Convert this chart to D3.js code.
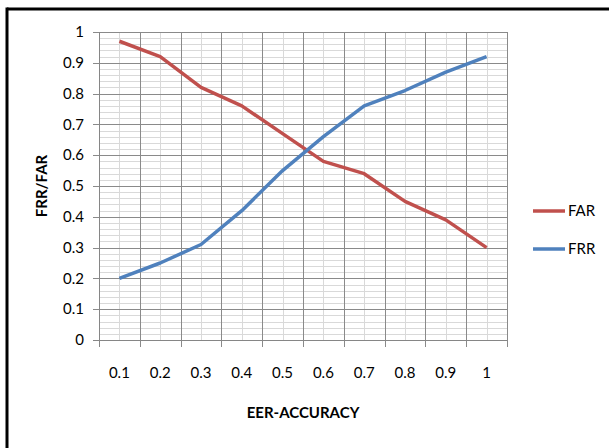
<!DOCTYPE html>
<html><head><meta charset="utf-8">
<script src="https://cdn.jsdelivr.net/npm/d3@7"></script>
<style>body{margin:0;background:#fff}svg{display:block}text{font-family:Lato,"Open Sans",sans-serif}</style>
</head><body>
<svg id="c" width="609" height="448"></svg>
<script>
const categories = ["0.1","0.2","0.3","0.4","0.5","0.6","0.7","0.8","0.9","1"];
const FAR = [0.97,0.92,0.82,0.76,0.67,0.58,0.54,0.45,0.39,0.30];
const FRR = [0.20,0.25,0.31,0.42,0.55,0.66,0.76,0.81,0.87,0.92];
const yTicks = [0,0.1,0.2,0.3,0.4,0.5,0.6,0.7,0.8,0.9,1];
const series = [{name:"FAR",values:FAR,color:"#C0504D"},{name:"FRR",values:FRR,color:"#4F81BD"}];

const svg = d3.select("#c");
const L=99, R=507, T=32, B=340;
const x = d3.scaleBand().domain(categories).range([L,R]);
const y = d3.scaleLinear().domain([0,1]).range([B,T]);

// frame
svg.append("line").attr("x1",7).attr("x2",609).attr("y1",9).attr("y2",9).attr("stroke","#000").attr("stroke-width",3);
svg.append("line").attr("x1",7).attr("x2",7).attr("y1",7.5).attr("y2",448).attr("stroke","#000").attr("stroke-width",3);

const g = svg.append("g");
const minor = d3.range(0,1.0001,0.02).filter(v=>Math.abs(Math.round(v*10)-v*10)>1e-6);
g.selectAll(".hmin").data(minor).enter().append("line")
 .attr("x1",L).attr("x2",R).attr("y1",d=>Math.round(y(d))+0.5).attr("y2",d=>Math.round(y(d))+0.5)
 .attr("stroke","#d9d9d9").attr("stroke-width",1);
g.selectAll(".vmin").data(categories).enter().append("line")
 .attr("x1",d=>Math.round(x(d)+x.bandwidth()/2)+0.5).attr("x2",d=>Math.round(x(d)+x.bandwidth()/2)+0.5)
 .attr("y1",T).attr("y2",B).attr("stroke","#d9d9d9").attr("stroke-width",1);
g.selectAll(".hmaj").data(yTicks).enter().append("line")
 .attr("x1",L-6).attr("x2",R).attr("y1",d=>Math.round(y(d))+0.5).attr("y2",d=>Math.round(y(d))+0.5)
 .attr("stroke","#8a8a8a").attr("stroke-width",1);
const bounds = categories.map(c=>x(c)).concat([R]);
g.selectAll(".vmaj").data(bounds).enter().append("line")
 .attr("x1",d=>Math.round(d)+0.5).attr("x2",d=>Math.round(d)+0.5)
 .attr("y1",T).attr("y2",B+7).attr("stroke","#8a8a8a").attr("stroke-width",1);
g.append("line").attr("x1",L+0.5).attr("x2",L+0.5).attr("y1",T).attr("y2",B+7).attr("stroke","#868686");
g.append("line").attr("x1",L-6).attr("x2",R).attr("y1",B+0.5).attr("y2",B+0.5).attr("stroke","#868686");

g.selectAll(".yl").data(yTicks).enter().append("text")
 .attr("x",84).attr("y",d=>y(d)).attr("dy","0.35em").attr("text-anchor","end")
 .attr("font-size",15).attr("fill","#000").text(d=>d3.format("")(+d.toFixed(1)));
g.selectAll(".xl").data(categories).enter().append("text")
 .attr("x",d=>x(d)+x.bandwidth()/2).attr("y",373).attr("dy","0.35em").attr("text-anchor","middle")
 .attr("font-size",15).attr("fill","#000").text(d=>d);

const line = d3.line().x((d,i)=>x(categories[i])+x.bandwidth()/2).y(d=>y(d));
series.forEach(s=>{
  g.append("path").attr("d",line(s.values)).attr("fill","none").attr("stroke",s.color)
   .attr("stroke-width",3.5).attr("stroke-linejoin","round");
});

series.forEach((s,i)=>{
  const ly = 211 + i*38;
  g.append("line").attr("x1",533).attr("x2",565).attr("y1",ly).attr("y2",ly).attr("stroke",s.color).attr("stroke-width",3.5);
  g.append("text").attr("x",568).attr("y",ly).attr("dy","0.35em").attr("font-size",15).text(s.name);
});

svg.append("text").attr("x",303).attr("y",413).attr("dy","0.35em").attr("text-anchor","middle")
 .attr("font-size",15).attr("font-weight","bold").text("EER-ACCURACY");
svg.append("text").attr("transform","translate(42,186) rotate(-90)").attr("dy","0.35em").attr("text-anchor","middle")
 .attr("font-size",15).attr("font-weight","bold").text("FRR/FAR");
</script>
</body></html>
